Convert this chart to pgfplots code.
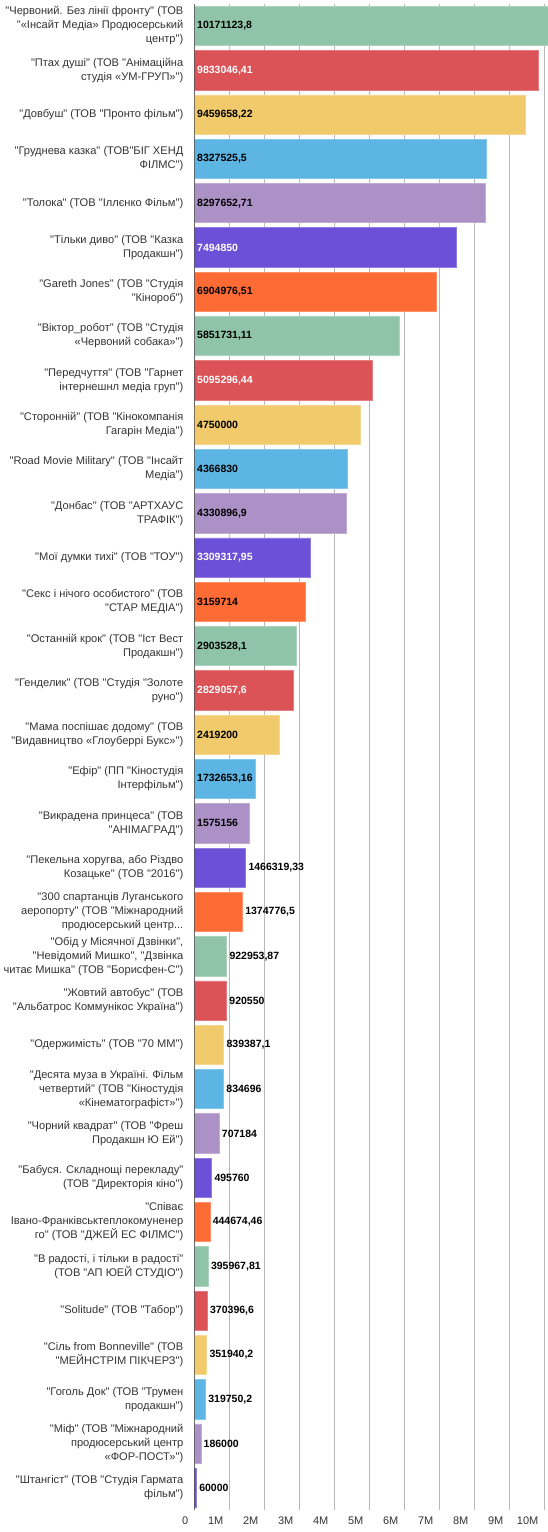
\documentclass[border=0pt]{standalone}
\usepackage{fontspec}
\setmainfont{Liberation Sans}[Ligatures=TeXOff]
\usepackage{pgfplots}
\pgfplotsset{compat=1.18}

\definecolor{cgreen}{HTML}{8FC4A8}
\definecolor{cred}{HTML}{DB5257}
\definecolor{cyellow}{HTML}{F0CA6B}
\definecolor{cblue}{HTML}{5DB5E3}
\definecolor{cpurple}{HTML}{AC91C6}
\definecolor{cviolet}{HTML}{6C50D8}
\definecolor{corange}{HTML}{FF6B35}
\definecolor{labgray}{HTML}{333333}
\definecolor{axisgray}{HTML}{3C3C3C}
\newcommand\threedots{...}

\pgfplotsset{
  bars/.style={xbar, bar shift=0pt, bar width=39.3pt, fill=#1, draw=#1!75!white, line width=0.8pt},
  vals/.style={only marks, mark=none, nodes near coords, point meta=explicit symbolic,
    nodes near coords align=horizontal,
    every node near coord/.style={anchor=west, inner sep=0pt, xshift=2.5pt, text=#1,
      font=\bfseries\fontsize{10.5}{12}\selectfont}},
}

\begin{document}
\begin{tikzpicture}
\begin{axis}[
  scale only axis, width=353.5pt, height=1506.2pt,
  at={(0,0)}, anchor=south west,
  xmin=0, xmax=10.1e6, ymin=-0.5, ymax=33.5, y dir=reverse,
  axis line style={draw=none},
  xmajorgrids, grid style={color=black!28, line width=0.8pt},
  xtick={0,1e6,2e6,3e6,4e6,5e6,6e6,7e6,8e6,9e6,10e6},
  xticklabels={0,1M,2M,3M,4M,5M,6M,7M,8M,9M,10M},
  scaled x ticks=false,
  xtick style={draw=none}, ytick style={draw=none},
  xticklabel style={anchor=north east, inner sep=0pt, xshift=-6pt, yshift=-7pt,
    text=labgray, font=\fontsize{11}{13}\selectfont},
  ytick={0,...,33},
  yticklabel style={anchor=east, align=right, inner sep=0pt, xshift=-11pt,
    text=labgray, font=\fontsize{11.1}{14}\selectfont},
  yticklabels={
    {"Червоний. Без лінії фронту" (ТОВ\\"«Інсайт Медіа» Продюсерський\\центр")},
    {"Птах душі" (ТОВ "Анімаційна\\студія «УМ-ГРУП»")},
    {"Довбуш" (ТОВ "Пронто фільм")},
    {"Груднева казка" (ТОВ"БІГ ХЕНД\\ФІЛМС")},
    {"Толока" (ТОВ "Іллєнко Фільм")},
    {"Тільки диво" (ТОВ "Казка\\Продакшн")},
    {"Gareth Jones" (ТОВ "Студія\\"Кінороб")},
    {"Віктор\_робот" (ТОВ "Студія\\«Червоний собака»")},
    {"Передчуття" (ТОВ "Гарнет\\інтернешнл медіа груп")},
    {"Сторонній" (ТОВ "Кінокомпанія\\Гагарін Медіа")},
    {"Road Movie Military" (ТОВ "Інсайт\\Медіа")},
    {"Донбас" (ТОВ "АРТХАУС\\ТРАФІК")},
    {"Мої думки тихі" (ТОВ "ТОУ")},
    {"Секс і нічого особистого" (ТОВ\\"СТАР МЕДІА")},
    {"Останній крок" (ТОВ "Іст Вест\\Продакшн")},
    {"Генделик" (ТОВ "Студія "Золоте\\руно")},
    {"Мама поспішає додому" (ТОВ\\"Видавництво «Глоуберрі Букс»")},
    {"Ефір" (ПП "Кіностудія\\Інтерфільм")},
    {"Викрадена принцеса" (ТОВ\\"АНІМАГРАД")},
    {"Пекельна хоругва, або Різдво\\Козацьке" (ТОВ "2016")},
    {"300 спартанців Луганського\\аеропорту" (ТОВ "Міжнародний\\продюсерський центр\threedots},
    {"Обід у Місячної Дзвінки",\\"Невідомий Мишко", "Дзвінка\\читає Мишка" (ТОВ "Борисфен-С")},
    {"Жовтий автобус" (ТОВ\\"Альбатрос Коммунікос Україна")},
    {"Одержимість" (ТОВ "70 ММ")},
    {"Десята муза в Україні. Фільм\\четвертий" (ТОВ "Кіностудія\\«Кінематографіст»")},
    {"Чорний квадрат" (ТОВ "Фреш\\Продакшн Ю Ей")},
    {"Бабуся. Складнощі перекладу"\\(ТОВ "Директорія кіно")},
    {"Співає\\Івано-Франківськтеплокомуненер\\го" (ТОВ "ДЖЕЙ ЕС ФІЛМС")},
    {"В радості, і тільки в радості"\\(ТОВ "АП ЮЕЙ СТУДІО")},
    {"Solitude" (ТОВ "Табор")},
    {"Сіль from Bonneville" (ТОВ\\"МЕЙНСТРІМ ПІКЧЕРЗ")},
    {"Гоголь Док" (ТОВ "Трумен\\продакшн")},
    {"Міф" (ТОВ "Міжнародний\\продюсерський центр\\«ФОР-ПОСТ»")},
    {"Штангіст" (ТОВ "Студія Гармата\\фільм")},
  },
]
% bars, one series per colour of the cycle
\addplot[bars=cgreen]  coordinates {(10171123.8,0) (5851731.11,7) (2903528.1,14) (922953.87,21) (395967.81,28)};
\addplot[bars=cred]    coordinates {(9833046.41,1) (5095296.44,8) (2829057.6,15) (920550,22) (370396.6,29)};
\addplot[bars=cyellow] coordinates {(9459658.22,2) (4750000,9) (2419200,16) (839387.1,23) (351940.2,30)};
\addplot[bars=cblue]   coordinates {(8327525.5,3) (4366830,10) (1732653.16,17) (834696,24) (319750.2,31)};
\addplot[bars=cpurple] coordinates {(8297652.71,4) (4330896.9,11) (1575156,18) (707184,25) (186000,32)};
\addplot[bars=cviolet] coordinates {(7494850,5) (3309317.95,12) (1466319.33,19) (495760,26) (60000,33)};
\addplot[bars=corange] coordinates {(6904976.51,6) (3159714,13) (1374776.5,20) (444674.46,27)};

% value labels inside the bars (white on the dark colours)
\addplot[vals=white] table[meta=lab] {
x y lab
0 1 9833046,41
0 5 7494850
0 8 5095296,44
0 12 3309317,95
0 15 2829057,6
};
\addplot[vals=black] table[meta=lab] {
x y lab
0 0 10171123,8
0 2 9459658,22
0 3 8327525,5
0 4 8297652,71
0 6 6904976,51
0 7 5851731,11
0 9 4750000
0 10 4366830
0 11 4330896,9
0 13 3159714
0 14 2903528,1
0 16 2419200
0 17 1732653,16
0 18 1575156
};
% value labels after the short bars
\addplot[vals=black] table[meta=lab] {
x y lab
1466319.33 19 1466319,33
1374776.5 20 1374776,5
922953.87 21 922953,87
920550 22 920550
839387.1 23 839387,1
834696 24 834696
707184 25 707184
495760 26 495760
444674.46 27 444674,46
395967.81 28 395967,81
370396.6 29 370396,6
351940.2 30 351940,2
319750.2 31 319750,2
186000 32 186000
60000 33 60000
};
\draw[axisgray, line width=2pt] (axis cs:0,-0.5) -- (axis cs:0,33.5);
\end{axis}
\pgfresetboundingbox
\path[use as bounding box] (-194.5pt,-22pt) rectangle (353.5pt,1510pt);
\end{tikzpicture}
\end{document}
